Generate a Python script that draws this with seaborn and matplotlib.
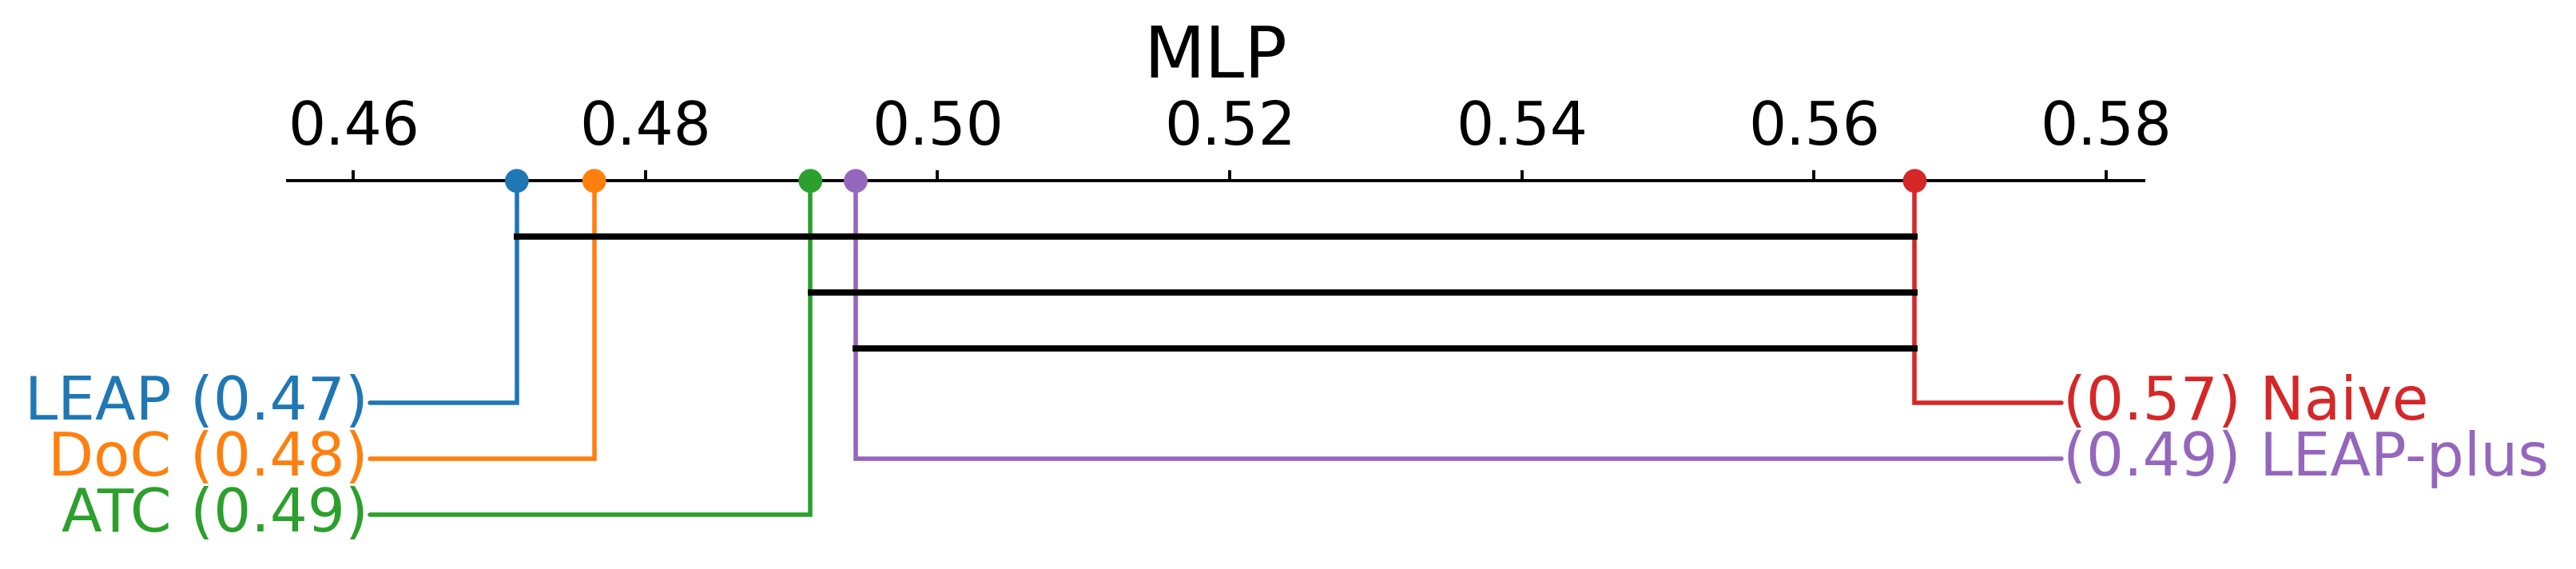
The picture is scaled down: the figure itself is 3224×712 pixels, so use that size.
import numpy as np
import pandas as pd
import seaborn as sns
import matplotlib.pyplot as plt

# Average scores (lower = better rank on the left)
title = "MLP"
methods = ["LEAP", "DoC", "ATC", "LEAP-plus", "Naive"]
scores = [0.4712, 0.4765, 0.4913, 0.4944, 0.5669]
colors = ["#1f77b4", "#ff7f0e", "#2ca02c", "#9467bd", "#d62728"]
left_methods = ["LEAP", "DoC", "ATC"]
right_methods = ["Naive", "LEAP-plus"]
# groups joined by a black bar (no significant difference)
cliques = [("LEAP", "Naive"), ("ATC", "Naive"), ("LEAP-plus", "Naive")]
ticks = [0.46, 0.48, 0.50, 0.52, 0.54, 0.56, 0.58]

df = pd.DataFrame({"method": methods, "score": scores, "y": 0.0})
score_of = dict(zip(methods, scores))
color_of = dict(zip(methods, colors))

sns.set_style("white")
plt.rcParams["font.family"] = ["DejaVu Sans"]
plt.rcParams["text.color"] = "black"
plt.rcParams["axes.edgecolor"] = "black"
plt.rcParams["xtick.color"] = "black"
plt.rcParams["xtick.labelcolor"] = "black"

fig = plt.figure(figsize=(16.12, 3.56), dpi=200)
# axes: top spine is the scale line, y runs downward (reference px below the line)
ax = fig.add_axes([175 / 1568, 0, (1305 - 175) / 1568, 236 / 346])
px = (1282 - 215) / 0.12
ax.set_xlim(0.46 - 40 / px, 0.58 + 23 / px)
ax.set_ylim(236, 0)

for s in ["left", "right", "bottom"]:
    ax.spines[s].set_visible(False)
ax.spines["top"].set_linewidth(1.4)
ax.spines["top"].set_color("black")
ax.xaxis.set_ticks_position("top")
ax.set_xticks(ticks)
ax.set_xticklabels([f"{t:.2f}" for t in ticks])
ax.tick_params(axis="x", direction="out", length=4.6, width=1.4, labelsize=26.7, pad=6,
               colors="black")
ax.set_yticks([])

fs = 26.7
lw = 2.0
row0, step = 135, 34
left_end = 0.46 + 10 / px
right_end = 0.46 + 1040 / px

for i, m in enumerate(left_methods):
    yy = row0 + i * step
    x = score_of[m]
    ax.plot([x, x, left_end], [0, yy, yy], color=color_of[m], lw=lw, clip_on=False,
            solid_joinstyle="miter", zorder=2)
    ax.text(left_end - 0.0001, yy, f"{m} ({x:.2f})", color=color_of[m], fontsize=fs,
            ha="right", va="center", clip_on=False)

for i, m in enumerate(right_methods):
    yy = row0 + i * step
    x = score_of[m]
    ax.plot([x, x, right_end], [0, yy, yy], color=color_of[m], lw=lw, clip_on=False,
            solid_joinstyle="miter", zorder=2)
    ax.text(right_end + 0.0001, yy, f"({x:.2f}) {m}", color=color_of[m], fontsize=fs,
            ha="left", va="center", clip_on=False)

for k, (a, b) in enumerate(cliques):
    yy = 34 + k * 34
    ax.plot([score_of[a] - 0.0002, score_of[b] + 0.0002], [yy, yy], color="black",
            lw=2.8, solid_capstyle="butt", zorder=3)

sns.scatterplot(data=df, x="score", y="y", hue="method", palette=color_of, s=115,
                edgecolor="none", legend=False, ax=ax, zorder=4, clip_on=False)
ax.set_xlabel("")
ax.set_ylabel("")

ax.text(0.5 * (ax.get_xlim()[0] + ax.get_xlim()[1]), -75, title, fontsize=32,
        color="black", ha="center", va="center", clip_on=False)

fig.savefig("out.png", dpi=200)
